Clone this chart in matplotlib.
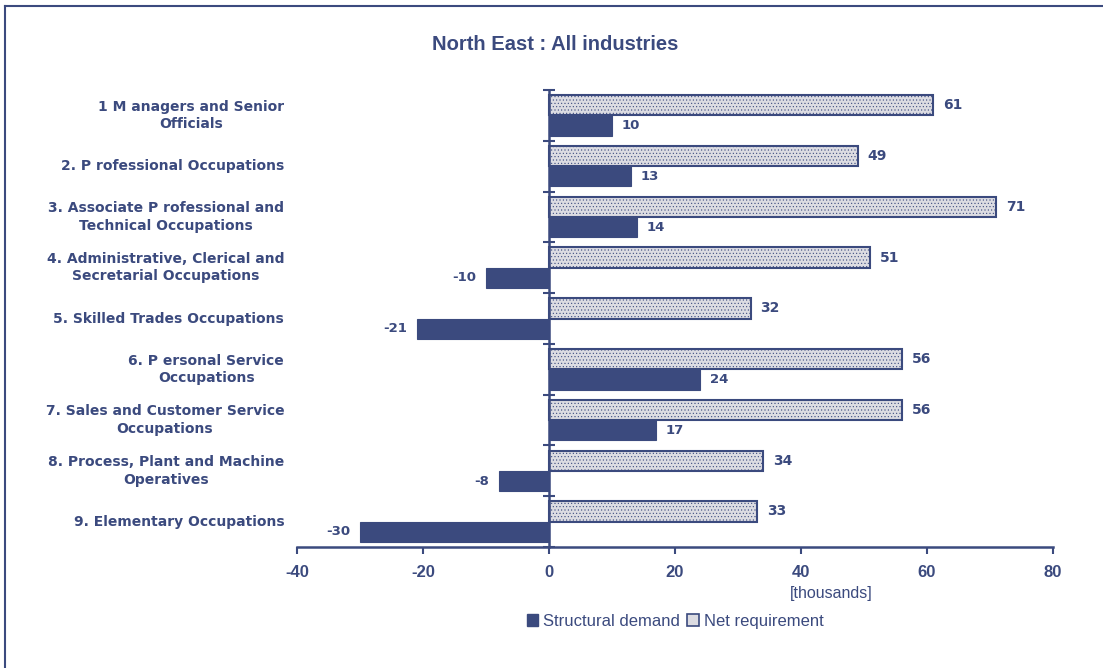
import matplotlib.pyplot as plt
import numpy as np
from matplotlib.patches import Patch
from matplotlib.lines import Line2D

occupations = [
    "1 M anagers and Senior\nOfficials",
    "2. P rofessional Occupations",
    "3. Associate P rofessional and\nTechnical Occupations",
    "4. Administrative, Clerical and\nSecretarial Occupations",
    "5. Skilled Trades Occupations",
    "6. P ersonal Service\nOccupations",
    "7. Sales and Customer Service\nOccupations",
    "8. Process, Plant and Machine\nOperatives",
    "9. Elementary Occupations",
]
structural_demand = [10, 13, 14, -10, -21, 24, 17, -8, -30]
net_requirement = [61, 49, 71, 51, 32, 56, 56, 34, 33]
x_ticks = [-40, -20, 0, 20, 40, 60, 80]

navy = "#3b4a7e"
light = "#dcdce2"

plt.rcParams['font.family'] = ['Liberation Sans', 'DejaVu Sans']
plt.rcParams['hatch.color'] = "#b9bac6"
plt.rcParams['hatch.linewidth'] = 0.4

fig = plt.figure(figsize=(11.03, 6.68), dpi=100)
ax = fig.add_axes([0.2693, 0.1811, 0.6854, 0.6842])

y = np.arange(len(occupations))
h = 0.4
ax.barh(y - h / 2, net_requirement, height=h, color=light, edgecolor=navy,
        linewidth=1.5, hatch=".....", zorder=2)
ax.barh(y + h / 2, structural_demand, height=h, color=navy, edgecolor=navy,
        linewidth=0.8, zorder=2)

# value labels
for yi, v in zip(y, net_requirement):
    ax.annotate(str(v), (v, yi - h / 2), xytext=(7, 0), textcoords="offset points",
                ha="left", va="center", fontsize=10, fontweight="bold",
                color=navy, family="DejaVu Sans")
for yi, v in zip(y, structural_demand):
    off = 7 if v > 0 else -7
    ax.annotate(str(v), (v, yi + h / 2), xytext=(off, 0), textcoords="offset points",
                ha="left" if v > 0 else "right", va="center", fontsize=9.5,
                fontweight="bold", color=navy, family="DejaVu Sans")

# category labels to the left of the plot
for yi, lab in zip(y, occupations):
    ax.text(-0.017, yi, lab, transform=ax.get_yaxis_transform(), ha="right",
            va="center", multialignment="center", fontsize=10,
            fontweight="bold", color=navy, family="DejaVu Sans",
            linespacing=1.3)

ax.set_xlim(-40, 80)
ax.set_ylim(len(occupations) - 0.5, -0.5)
ax.set_xticks(x_ticks)
ax.set_xticklabels([str(t) for t in x_ticks], fontsize=12, fontweight="bold",
                   color=navy)
ax.tick_params(axis="x", direction="out", length=5, width=1.5, color=navy, pad=8)

ax.set_yticks(np.arange(-0.5, len(occupations), 1.0))
ax.set_yticklabels([])
ax.tick_params(axis="y", direction="inout", length=9, width=1.5, color=navy)

for s in ["top", "right"]:
    ax.spines[s].set_visible(False)
ax.spines["left"].set_position(("data", 0))
for s in ["left", "bottom"]:
    ax.spines[s].set_color(navy)
    ax.spines[s].set_linewidth(1.8)
ax.spines["left"].set_zorder(3)

ax.text(44.8, -0.085, "[thousands]", transform=ax.get_xaxis_transform(),
        ha="center", va="top", fontsize=11.5, color=navy)

fig.text(0.503, 0.933, "North East : All industries", ha="center", va="center",
         fontsize=14.5, fontweight="bold", color=navy)

handles = [Patch(facecolor=navy, edgecolor=navy),
           Patch(facecolor=light, edgecolor=navy, linewidth=1.2)]
fig.legend(handles, ["Structural demand", "Net requirement"], loc="center",
           bbox_to_anchor=(0.612, 0.07), ncol=2, frameon=False, fontsize=12,
           handlelength=0.7, handleheight=0.7, handletextpad=0.3,
           columnspacing=0.4, labelcolor=navy)

# outer frame along the top and left edges
fig.add_artist(Line2D([0.0045, 1.0], [0.991, 0.991], transform=fig.transFigure,
                      color=navy, linewidth=1.5))
fig.add_artist(Line2D([0.0045, 0.0045], [0.0, 0.991], transform=fig.transFigure,
                      color=navy, linewidth=1.5))

fig.savefig("out.png", dpi=100)
